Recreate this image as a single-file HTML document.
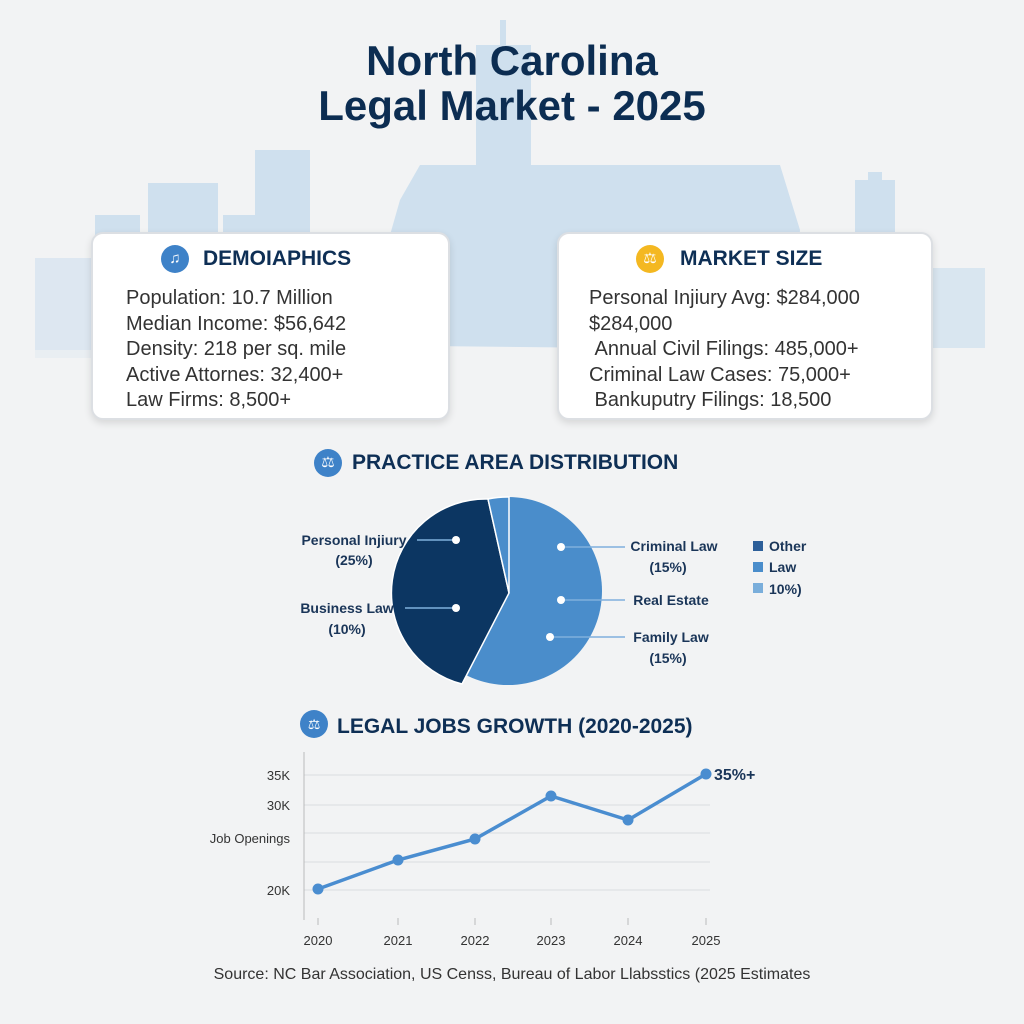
<!DOCTYPE html>
<html><head><meta charset="utf-8"><style>
body{margin:0;width:1024px;height:1024px;background:#f2f3f4;font-family:"Liberation Sans","DejaVu Sans",sans-serif;position:relative;overflow:hidden}
.abs{position:absolute}
.card{position:absolute;background:#fff;border:2px solid #dcdfe3;border-radius:12px;box-shadow:0 3px 8px rgba(0,0,0,0.12)}
.h{font-weight:bold;color:#0e2f55}
.line{font-size:20px;color:#333;line-height:25.5px}
.icon{position:absolute;border-radius:50%;width:28px;height:28px;color:#fff;font-size:15px;text-align:center;line-height:28px}
</style></head><body>
<svg class="abs" style="left:0;top:0" width="1024" height="1024">
 <g fill="#cfe0ee">
  <rect x="476" y="45" width="55" height="300"/>
  <rect x="500" y="20" width="6" height="30"/>
  <rect x="255" y="150" width="55" height="200"/>
  <rect x="148" y="183" width="70" height="160"/>
  <rect x="95" y="215" width="45" height="130"/>
  <rect x="35" y="258" width="60" height="100" opacity="0.6"/>
  <rect x="223" y="215" width="35" height="130"/>
  <path d="M340 345 L355 290 L380 270 L400 200 L420 165 L780 165 L800 230 L790 350 Z"/>
  <rect x="855" y="180" width="40" height="120"/>
  <rect x="868" y="172" width="14" height="12"/>
  <rect x="930" y="268" width="55" height="80" opacity="0.7"/>
 </g>
 <rect x="0" y="350" width="1024" height="80" fill="#f2f3f4" opacity="0.6"/>
</svg>
<div class="abs h" style="left:0;width:1024px;top:38px;text-align:center;font-size:42px;line-height:45px;color:#0c2d52">North Carolina<br>Legal Market - 2025</div>

<div class="card" style="left:91px;top:232px;width:355px;height:184px">
 <div class="icon" style="left:68px;top:11px;background:#3e82c8">♫</div>
 <div class="abs h" style="left:110px;top:13px;font-size:21px">DEMOIAPHICS</div>
 <div class="abs line" style="left:33px;top:52px">Population: 10.7 Million<br>Median Income: $56,642<br>Density: 218 per sq. mile<br>Active Attornes: 32,400+<br>Law Firms: 8,500+</div>
</div>
<div class="card" style="left:557px;top:232px;width:372px;height:184px">
 <div class="icon" style="left:77px;top:11px;background:#f4b821">⚖</div>
 <div class="abs h" style="left:121px;top:13px;font-size:21px">MARKET SIZE</div>
 <div class="abs line" style="left:30px;top:52px">Personal Injiury Avg: $284,000<br>$284,000<br>&nbsp;Annual Civil Filings: 485,000+<br>Criminal Law Cases: 75,000+<br>&nbsp;Bankuputry Filings: 18,500</div>
</div>

<div class="icon" style="left:314px;top:449px;background:#3e82c8">⚖</div>
<div class="abs h" style="left:352px;top:451px;font-size:21px">PRACTICE AREA DISTRIBUTION</div>
<svg class="abs" style="left:0;top:0" width="1024" height="1024">
 <circle cx="508" cy="591" r="94" fill="#4a8dcb"/>
 <path d="M509 593 L488 499 A94 94 0 0 0 462 684 Z" fill="#0c3662" stroke="#fff" stroke-width="1.5"/>
 <path d="M509 593 L509 497 A94 94 0 0 0 488 499 Z" fill="#4a8dcb" stroke="#fff" stroke-width="1.5"/>
 <g stroke="#7fb0dd" stroke-width="1.5"><line x1="417" y1="540" x2="456" y2="540"/><line x1="405" y1="608" x2="456" y2="608"/><line x1="561" y1="547" x2="625" y2="547"/><line x1="561" y1="600" x2="625" y2="600"/><line x1="550" y1="637" x2="625" y2="637"/></g>
 <g fill="#fff"><circle cx="456" cy="540" r="4"/><circle cx="456" cy="608" r="4"/><circle cx="561" cy="547" r="4"/><circle cx="561" cy="600" r="4"/><circle cx="550" cy="637" r="4"/></g>
 <g font-family="Liberation Sans,sans-serif" font-size="14" font-weight="bold" fill="#1a3558" text-anchor="middle">
  <text x="354" y="545">Personal Injiury</text><text x="354" y="565">(25%)</text>
  <text x="347" y="613">Business Law</text><text x="347" y="634">(10%)</text>
  <text x="674" y="551">Criminal Law</text><text x="668" y="572">(15%)</text>
  <text x="671" y="605">Real Estate</text>
  <text x="671" y="642">Family Law</text><text x="668" y="663">(15%)</text>
  <text x="769" y="551" text-anchor="start">Other</text><text x="769" y="572" text-anchor="start">Law</text><text x="769" y="594" text-anchor="start">10%)</text>
 </g>
 <rect x="753" y="541" width="10" height="10" fill="#2d5f99"/><rect x="753" y="562" width="10" height="10" fill="#4a8dcb"/><rect x="753" y="583" width="10" height="10" fill="#7aaedb"/>

 <circle cx="314" cy="724" r="14" fill="#3e82c8"/>
 <text x="314" y="729" text-anchor="middle" font-size="14" fill="#fff">⚖</text>
 <text x="337" y="733" font-family="Liberation Sans,sans-serif" font-size="21" font-weight="bold" fill="#0e2f55">LEGAL JOBS GROWTH (2020-2025)</text>
 <g stroke="#dadcdf" stroke-width="1"><line x1="304" y1="775" x2="710" y2="775"/><line x1="304" y1="805" x2="710" y2="805"/><line x1="304" y1="833" x2="710" y2="833"/><line x1="304" y1="862" x2="710" y2="862"/><line x1="304" y1="890" x2="710" y2="890"/></g>
 <line x1="304" y1="752" x2="304" y2="920" stroke="#bbb"/>
 <g stroke="#bbb"><line x1="318" y1="918" x2="318" y2="925"/><line x1="398" y1="918" x2="398" y2="925"/><line x1="475" y1="918" x2="475" y2="925"/><line x1="551" y1="918" x2="551" y2="925"/><line x1="628" y1="918" x2="628" y2="925"/><line x1="706" y1="918" x2="706" y2="925"/></g>
 <polyline points="318,889 398,860 475,839 551,796 628,820 706,774" fill="none" stroke="#4a8dd0" stroke-width="3.5"/>
 <g fill="#4a8dd0"><circle cx="318" cy="889" r="5.5"/><circle cx="398" cy="860" r="5.5"/><circle cx="475" cy="839" r="5.5"/><circle cx="551" cy="796" r="5.5"/><circle cx="628" cy="820" r="5.5"/><circle cx="706" cy="774" r="5.5"/></g>
 <g font-family="Liberation Sans,sans-serif" font-size="13" fill="#333">
  <text x="290" y="780" text-anchor="end">35K</text><text x="290" y="810" text-anchor="end">30K</text><text x="290" y="843" text-anchor="end">Job Openings</text><text x="290" y="895" text-anchor="end">20K</text>
  <g text-anchor="middle"><text x="318" y="945">2020</text><text x="398" y="945">2021</text><text x="475" y="945">2022</text><text x="551" y="945">2023</text><text x="628" y="945">2024</text><text x="706" y="945">2025</text></g>
 </g>
 <text x="714" y="780" font-family="Liberation Sans,sans-serif" font-size="16" font-weight="bold" fill="#1a3558">35%+</text>
 <text x="512" y="979" text-anchor="middle" font-family="Liberation Sans,sans-serif" font-size="16" fill="#333">Source: NC Bar Association, US Censs, Bureau of Labor Llabsstics (2025 Estimates</text>
</svg>
</body></html>
